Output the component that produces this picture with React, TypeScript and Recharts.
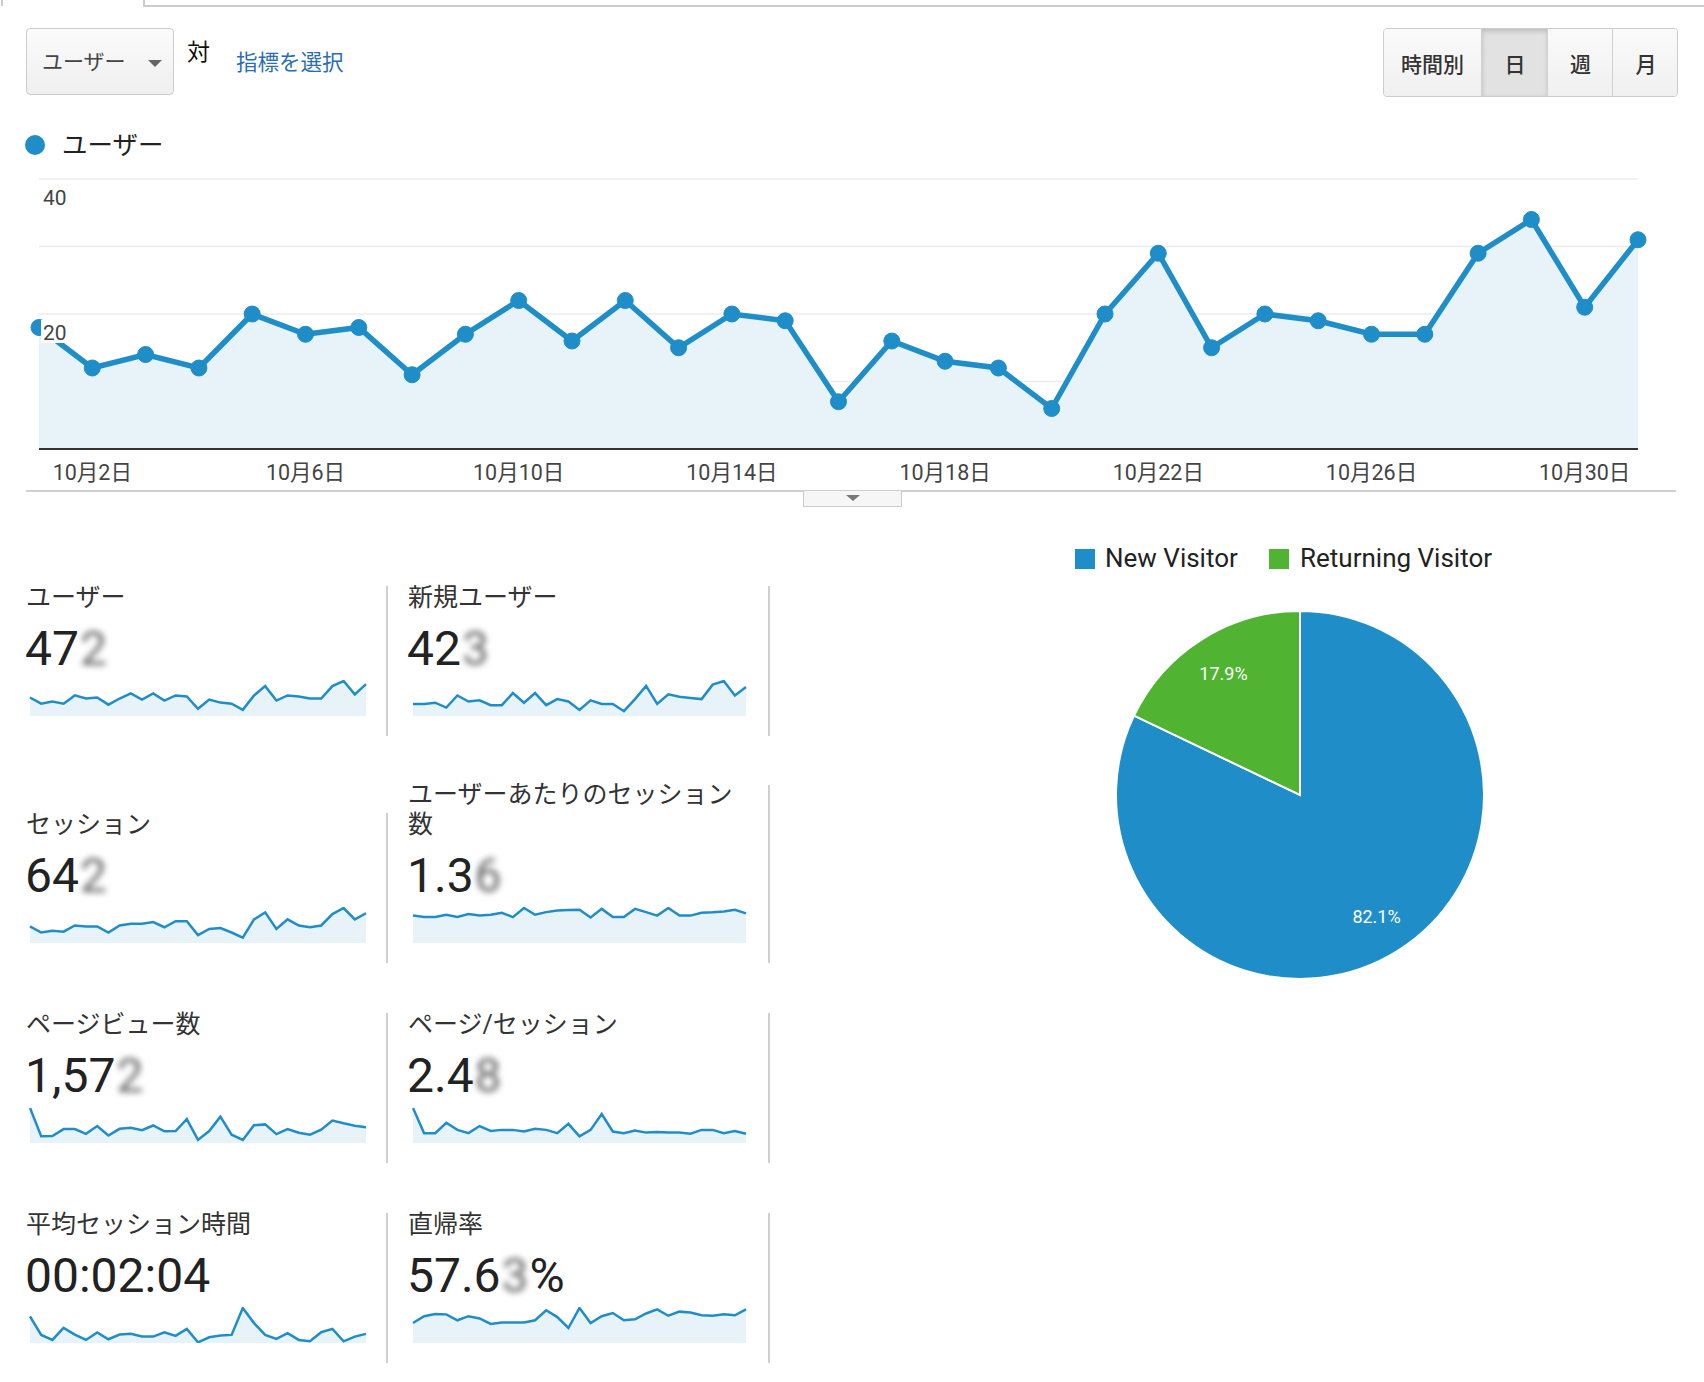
import * as React from "react";
import { Area, AreaChart, CartesianGrid, Cell, Pie, PieChart, XAxis, YAxis } from "recharts";

// 10月 daily data
const days = [1, 2, 3, 4, 5, 6, 7, 8, 9, 10, 11, 12, 13, 14, 15, 16, 17, 18, 19, 20, 21, 22, 23, 24, 25, 26, 27, 28, 29, 30, 31];
const xTickDays = [2, 6, 10, 14, 18, 22, 26, 30];
const yTicks = [0, 10, 20, 30, 40];
const yLabelTicks = [20, 40];

const users = [18, 12, 14, 12, 20, 17, 18, 11, 17, 22, 16, 22, 15, 20, 19, 7, 16, 13, 12, 6, 20, 29, 15, 20, 19, 17, 17, 29, 34, 21, 31];
const newUsers = [10, 10, 11, 7, 17, 12, 13, 9, 9, 19, 11, 19, 9, 14, 12, 5, 13, 10, 10, 4, 14, 25, 10, 18, 16, 15, 14, 26, 29, 17, 24];
const sessions = [19, 12, 14, 13, 20, 19, 19, 12, 20, 22, 22, 24, 18, 25, 25, 9, 16, 17, 12, 6, 27, 35, 16, 27, 20, 18, 20, 33, 40, 27, 34];
const sessionsPerUser = [1.26, 1.2, 1.2, 1.3, 1.2, 1.33, 1.26, 1.3, 1.39, 1.19, 1.61, 1.3, 1.42, 1.5, 1.52, 1.53, 1.17, 1.57, 1.2, 1.2, 1.57, 1.42, 1.26, 1.61, 1.26, 1.26, 1.39, 1.41, 1.45, 1.53, 1.36];
const pageviews = [126, 24, 25, 50, 50, 33, 61, 27, 51, 55, 46, 63, 42, 43, 86, 11, 43, 95, 30, 11, 64, 67, 32, 50, 37, 30, 48, 81, 71, 62, 57];
const pagesPerSession = [6.4, 1.8, 1.8, 3.7, 2.4, 1.8, 3.1, 2.2, 2.4, 2.4, 2.1, 2.6, 2.4, 1.8, 3.5, 1.2, 2.4, 5.3, 2.1, 1.8, 2.3, 1.9, 2.0, 1.9, 1.9, 1.7, 2.4, 2.4, 1.8, 2.2, 1.7];
const avgSessionSec = [356, 108, 41, 203, 113, 41, 140, 50, 113, 122, 86, 86, 144, 95, 189, 9, 77, 99, 108, 468, 266, 108, 54, 131, 41, 23, 144, 189, 23, 86, 122];
const bounceRate = [44, 59, 64, 63, 50, 59, 54, 42, 45, 45, 45, 50, 72, 57, 33, 77, 44, 59, 66, 50, 52, 65, 74, 60, 69, 67, 61, 60, 63, 61, 74];

const pieNames = ["New Visitor", "Returning Visitor"];
const pieValues = [82.1, 17.9];
const pieColors = ["#1f8ec8", "#50b432"];

// [title lines, shown value, blurred digit, suffix, series]
const metrics: Array<[string[], string, string, string, number[]]> = [
  [["ユーザー"], "47", "2", "", users],
  [["新規ユーザー"], "42", "3", "", newUsers],
  [["セッション"], "64", "2", "", sessions],
  [["ユーザーあたりのセッション", "数"], "1.3", "6", "", sessionsPerUser],
  [["ページビュー数"], "1,57", "2", "", pageviews],
  [["ページ/セッション"], "2.4", "8", "", pagesPerSession],
  [["平均セッション時間"], "00:02:04", "", "", avgSessionSec],
  [["直帰率"], "57.6", "3", "%", bounceRate],
];

const BLUE = "#1f8ec8";
const FILL = "#e8f3f9";
const FONT = "Roboto, 'Noto Sans CJK JP', sans-serif";

const mainData = days.map((d, i) => ({ day: d, users: users[i] }));

const XTick = (props: any) => {
  const { x, payload } = props;
  return (
    <text x={x} y={330} textAnchor="middle" fontSize={21.5} fill="#444" fontFamily={FONT}>
      {`10月${payload.value}日`}
    </text>
  );
};

const YTick = (props: any) => {
  const { y, payload } = props;
  if (!yLabelTicks.includes(payload.value)) return null;
  return (
    <g>
      <rect x={41} y={y + 6} width={30} height={23} fill="#fff" />
      <text x={43} y={y + 26} fontSize={21} fill="#444" fontFamily={FONT}>
        {payload.value}
      </text>
    </g>
  );
};

function Sparkline({ series, width }: { series: number[]; width: number }) {
  const data = days.map((d, i) => ({ day: d, v: series[i] }));
  return (
    <AreaChart width={width} height={36} data={data} margin={{ top: 1, right: 1, bottom: 0, left: 1 }}>
      <XAxis dataKey="day" type="number" domain={[1, 31]} hide />
      <YAxis domain={[0, "dataMax"]} hide />
      <Area
        type="linear"
        dataKey="v"
        stroke={BLUE}
        strokeWidth={2.5}
        fill={FILL}
        fillOpacity={1}
        dot={false}
        activeDot={false}
        isAnimationActive={false}
      />
    </AreaChart>
  );
}

const RAD = Math.PI / 180;
const PieLabel = (props: any) => {
  const { cx, cy, midAngle, outerRadius, index } = props;
  const r = outerRadius * 0.78;
  const x = cx + r * Math.cos(-midAngle * RAD);
  const y = cy + r * Math.sin(-midAngle * RAD);
  return (
    <text x={x} y={y} fill="#fff" fontSize={18} fontFamily={FONT} textAnchor="middle" dominantBaseline="central">
      {`${pieValues[index].toFixed(1)}%`}
    </text>
  );
};

const btnBase: React.CSSProperties = {
  position: "absolute",
  top: 0,
  height: 67,
  display: "flex",
  alignItems: "center",
  justifyContent: "center",
  fontSize: 21,
  color: "#333",
  fontWeight: 500,
  borderLeft: "1px solid #d0d0d0",
  background: "linear-gradient(#fafafa, #f0f0f0)",
};

export default function App() {
  const rowTops = [586, 813, 1013, 1213];
  const colX = [26, 408];
  const sparkX = [29, 412];
  const sparkW = [338, 335];
  const dividerX = [386, 768];
  const pieData = pieNames.map((n, i) => ({ name: n, value: pieValues[i] }));

  return (
    <div style={{ position: "relative", width: 1704, height: 1382, background: "#fff", fontFamily: FONT, overflow: "hidden" }}>
      <style>{`body{margin:0}`}</style>

      {/* tab edge */}
      <div style={{ position: "absolute", left: 1, top: 0, width: 2, height: 6, background: "#ccc" }} />
      <div style={{ position: "absolute", left: 143, top: 0, width: 2, height: 7, background: "#ccc" }} />
      <div style={{ position: "absolute", left: 143, top: 5, width: 1561, height: 2, background: "#ccc" }} />

      {/* metric dropdown */}
      <div
        style={{
          position: "absolute", left: 26, top: 28, width: 148, height: 67, border: "1px solid #ccc", borderRadius: 4,
          background: "linear-gradient(#fbfbfb, #efefef)", boxSizing: "border-box",
        }}
      >
        <div style={{ position: "absolute", left: 15, top: 21, fontSize: 21, lineHeight: "24px", color: "#444" }}>ユーザー</div>
        <div style={{ position: "absolute", left: 121, top: 31, width: 0, height: 0, borderLeft: "7px solid transparent", borderRight: "7px solid transparent", borderTop: "7px solid #666" }} />
      </div>
      <div style={{ position: "absolute", left: 187, top: 39, fontSize: 23, lineHeight: "28px", color: "#111" }}>対</div>
      <div style={{ position: "absolute", left: 236, top: 50, fontSize: 21.5, lineHeight: "26px", color: "#2a6db5" }}>指標を選択</div>

      {/* period buttons */}
      <div style={{ position: "absolute", left: 1383, top: 28, width: 295, height: 69, border: "1px solid #ccc", borderRadius: 4, overflow: "hidden", boxSizing: "border-box" }}>
        <div style={{ ...btnBase, left: 0, width: 97, borderLeft: "none" }}>時間別</div>
        <div style={{ ...btnBase, left: 97, width: 66, background: "#e2e2e2", boxShadow: "inset 0 2px 5px rgba(0,0,0,0.18)" }}>日</div>
        <div style={{ ...btnBase, left: 163, width: 65 }}>週</div>
        <div style={{ ...btnBase, left: 228, width: 66 }}>月</div>
      </div>

      {/* main legend */}
      <div style={{ position: "absolute", left: 25, top: 135, width: 20, height: 20, borderRadius: 10, background: BLUE }} />
      <div style={{ position: "absolute", left: 62, top: 130, fontSize: 25.5, lineHeight: "30px", color: "#222" }}>ユーザー</div>

      {/* main chart */}
      <div style={{ position: "absolute", left: 0, top: 150 }}>
        <AreaChart width={1704} height={340} data={mainData} margin={{ top: 29, right: 66, bottom: 11, left: 39 }}>
          <CartesianGrid vertical={false} stroke="#ececec" strokeWidth={1.5} />
          <XAxis
            dataKey="day"
            type="number"
            domain={[1, 31]}
            ticks={xTickDays}
            height={30}
            axisLine={{ stroke: "#333", strokeWidth: 2 }}
            tickLine={false}
            tick={<XTick />}
          />
          <Area
            type="linear"
            dataKey="users"
            stroke={BLUE}
            strokeWidth={5.5}
            fill={FILL}
            fillOpacity={1}
            dot={{ r: 8, fill: BLUE, stroke: BLUE, strokeWidth: 1 }}
            activeDot={false}
            isAnimationActive={false}
          />
          <YAxis
            domain={[0, 40]}
            ticks={yTicks}
            width={40}
            mirror
            axisLine={false}
            tickLine={false}
            tick={<YTick />}
          />
        </AreaChart>
      </div>

      {/* separator + collapse tab */}
      <div style={{ position: "absolute", left: 26, top: 490, width: 1650, height: 2, background: "#d0d0d0" }} />
      <div style={{ position: "absolute", left: 803, top: 491, width: 99, height: 16, border: "1px solid #ccc", borderTop: "none", background: "#f6f6f6", boxSizing: "border-box" }}>
        <div style={{ position: "absolute", left: 42, top: 4, width: 0, height: 0, borderLeft: "7px solid transparent", borderRight: "7px solid transparent", borderTop: "6px solid #777" }} />
      </div>

      {/* metric cells */}
      {metrics.map(([title, value, blurDigit, suffix, series], idx) => {
        const row = Math.floor(idx / 2);
        const col = idx % 2;
        const top = rowTops[row];
        const bottom = top + 150;
        const twoLine = title.length > 1;
        const cellTop = twoLine ? top - 28 : top;
        return (
          <React.Fragment key={idx}>
            <div style={{ position: "absolute", left: dividerX[col], top: cellTop, width: 2, height: bottom - cellTop, background: "#cfcfcf" }} />
            {title.map((line, li) => (
              <div
                key={li}
                style={{
                  position: "absolute", left: colX[col], top: top - 1 - (title.length - 1 - li) * 30,
                  fontSize: 25, lineHeight: "26px", color: "#333", whiteSpace: "nowrap",
                }}
              >
                {line}
              </div>
            ))}
            <div style={{ position: "absolute", left: colX[col] - 1, top: top + 39, fontSize: 48, lineHeight: "48px", color: "#222", whiteSpace: "nowrap" }}>
              {value}
              {blurDigit && (
                <span style={{ display: "inline-block", filter: "blur(3px)", color: "#666", margin: "0 1px" }}>{blurDigit}</span>
              )}
              {suffix}
            </div>
            <div style={{ position: "absolute", left: sparkX[col], top: top + 94 }}>
              <Sparkline series={series} width={sparkW[col]} />
            </div>
          </React.Fragment>
        );
      })}

      {/* pie legend */}
      {pieNames.map((n, i) => (
        <React.Fragment key={n}>
          <div style={{ position: "absolute", left: i === 0 ? 1075 : 1269, top: 549, width: 20, height: 20, background: pieColors[i] }} />
          <div style={{ position: "absolute", left: i === 0 ? 1105 : 1300, top: 543, fontSize: 26, lineHeight: "30px", color: "#222" }}>{n}</div>
        </React.Fragment>
      ))}

      {/* pie */}
      <div style={{ position: "absolute", left: 1095, top: 590 }}>
        <PieChart width={400} height={400}>
          <Pie
            data={pieData}
            dataKey="value"
            nameKey="name"
            cx={200}
            cy={200}
            outerRadius={184}
            startAngle={90}
            endAngle={-270}
            stroke="#fff"
            strokeWidth={2}
            labelLine={false}
            label={PieLabel}
            isAnimationActive={false}
          >
            {pieData.map((_, i) => (
              <Cell key={`cell-${i}`} fill={pieColors[i]} />
            ))}
          </Pie>
        </PieChart>
      </div>
    </div>
  );
}
